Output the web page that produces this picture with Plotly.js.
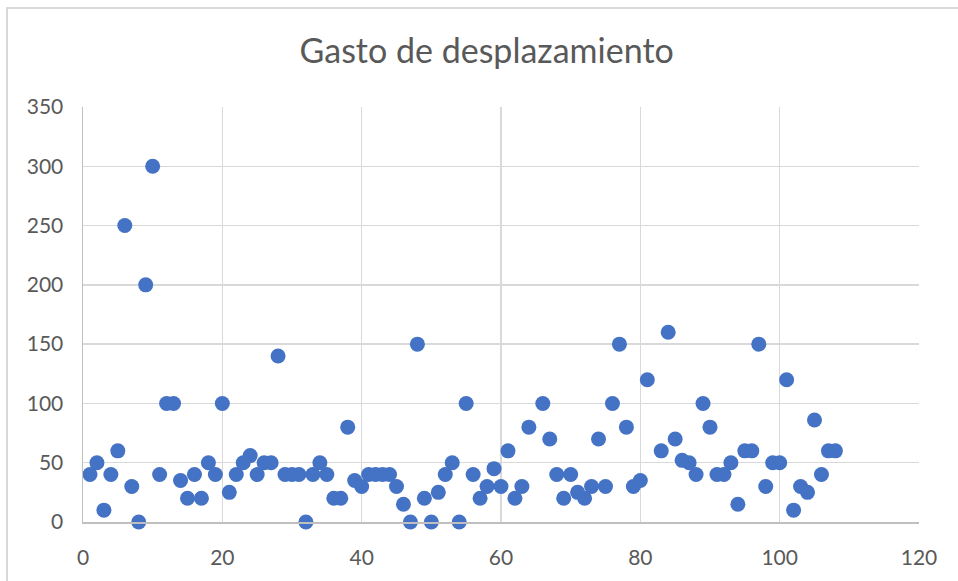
<!DOCTYPE html>
<html>
<head>
<meta charset="utf-8">
<script src="https://cdn.plot.ly/plotly-3.0.1.min.js"></script>
<style>
  html, body { margin: 0; padding: 0; background: #fff; }
  #wrap { position: relative; width: 958px; height: 581px; overflow: hidden; }
  #chart { width: 958px; height: 581px; }
  #frame { position: absolute; left: 6px; top: 7px; width: 1000px; height: 700px;
           border-left: 2px solid #d9d9d9; border-top: 2px solid #d9d9d9; pointer-events: none; }
</style>
</head>
<body>
<div id="wrap">
  <div id="chart"></div>
  <div id="frame"></div>
</div>
<script>
const chartTitle = "Gasto de desplazamiento";

const xValues = [
  1, 2, 3, 4, 5, 6, 7, 8, 9, 10,
  11, 12, 13, 14, 15, 16, 17, 18, 19, 20,
  21, 22, 23, 24, 25, 26, 27, 28, 29, 30,
  31, 32, 33, 34, 35, 36, 37, 38, 39, 40,
  41, 42, 43, 44, 45, 46, 47, 48, 49, 50,
  51, 52, 53, 54, 55, 56, 57, 58, 59, 60,
  61, 62, 63, 64, 66, 67, 68, 69, 70,
  71, 72, 73, 74, 75, 76, 77, 78, 79, 80,
  81, 83, 84, 85, 86, 87, 88, 89, 90,
  91, 92, 93, 94, 95, 96, 97, 98, 99, 100,
  101, 102, 103, 104, 105, 106, 107, 108
];

const gasto = [
  40, 50, 10, 40, 60, 250, 30, 0, 200, 300,
  40, 100, 100, 35, 20, 40, 20, 50, 40, 100,
  25, 40, 50, 56, 40, 50, 50, 140, 40, 40,
  40, 0, 40, 50, 40, 20, 20, 80, 35, 30,
  40, 40, 40, 40, 30, 15, 0, 150, 20, 0,
  25, 40, 50, 0, 100, 40, 20, 30, 45, 30,
  60, 20, 30, 80, 100, 70, 40, 20, 40,
  25, 20, 30, 70, 30, 100, 150, 80, 30, 35,
  120, 60, 160, 70, 52, 50, 40, 100, 80,
  40, 40, 50, 15, 60, 60, 150, 30, 50, 50,
  120, 10, 30, 25, 86, 40, 60, 60
];

const xTickVals = [0, 20, 40, 60, 80, 100, 120];
const yTickVals = [0, 50, 100, 150, 200, 250, 300, 350];

const textColor = "#595959";
const fontFamily = "Lato, 'Open Sans', sans-serif";

const trace = {
  x: xValues,
  y: gasto,
  type: "scatter",
  mode: "markers",
  cliponaxis: false,
  marker: { color: "#4472C4", size: 15, line: { width: 0 } },
  hoverinfo: "x+y"
};

const layout = {
  width: 958,
  height: 581,
  paper_bgcolor: "#ffffff",
  plot_bgcolor: "#ffffff",
  margin: { l: 83, r: 39, t: 107, b: 59, pad: 0 },
  showlegend: false,
  title: {
    text: chartTitle,
    font: { family: fontFamily, size: 34, color: textColor },
    xref: "container", x: 0.508, xanchor: "center",
    yref: "container", y: 0.912, yanchor: "middle"
  },
  xaxis: {
    range: [0, 120],
    tickvals: xTickVals,
    ticktext: xTickVals.map(String),
    showgrid: true,
    gridcolor: "#d9d9d9",
    gridwidth: 1.5,
    zeroline: false,
    showline: true,
    linecolor: "#bfbfbf",
    linewidth: 1.5,
    ticks: "",
    ticklabelstandoff: 16,
    tickfont: { family: fontFamily, size: 21, color: textColor },
    fixedrange: true
  },
  yaxis: {
    range: [0, 350],
    tickvals: yTickVals,
    ticktext: yTickVals.map(String),
    showgrid: true,
    gridcolor: "#d9d9d9",
    gridwidth: 1.5,
    zeroline: false,
    showline: true,
    linecolor: "#bfbfbf",
    linewidth: 1.5,
    ticks: "",
    ticklabelstandoff: 14,
    tickfont: { family: fontFamily, size: 21, color: textColor },
    fixedrange: true
  }
};

Plotly.newPlot("chart", [trace], layout, { displayModeBar: false, staticPlot: true });
</script>
</body>
</html>
